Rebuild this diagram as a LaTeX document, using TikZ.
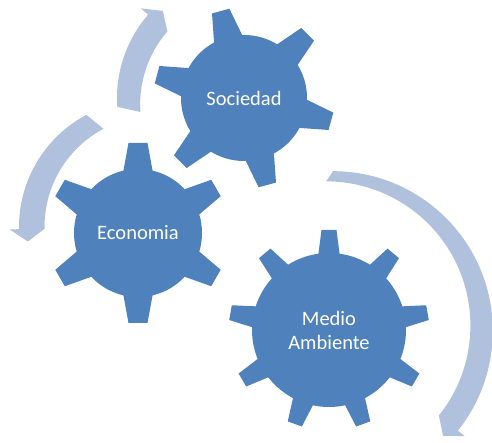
\documentclass[tikz,border=0pt]{standalone}
\usepackage{fontspec}
\setmainfont{Carlito}
\definecolor{gearblue}{RGB}{79,129,189}
\definecolor{arrowblue}{RGB}{176,193,222}
\newcommand{\mygear}[6]{%
  \begin{scope}[shift={#1}]
    \fill[gearblue] (0,0) circle[radius=#2];
    \foreach \a in {#6}{
      \fill[gearblue, rotate=\a] (#2-4,-#4) -- (#3,-#5) -- (#3,#5) -- (#2-4,#4) -- cycle;
    }
  \end{scope}}
\newcommand{\myarrow}[7]{% center, radius, start, base, tip, shaft half, head half
  \begin{scope}[shift={#1}]
    \fill[arrowblue] (#3:#2+#6) arc[start angle=#3, end angle=#4, radius=#2+#6]
      -- (#4:#2+#7) -- (#5:#2) -- (#4:#2-#7)
      arc[start angle=#4, end angle=#3, radius=#2-#6] -- cycle;
  \end{scope}}
\begin{document}
\begin{tikzpicture}[x=1pt,y=1pt,
  gtext/.style={text=white, font=\fontsize{20.5}{24}\selectfont, align=center, inner sep=0pt}]
\useasboundingbox (0,0) rectangle (492,443);
% arrows
\myarrow{(244,345)}{119}{184}{139}{133}{8}{17.5}
\myarrow{(146,216)}{119}{118}{181}{187}{8}{17.5}
\myarrow{(333,112)}{152}{90}{-38.6}{-43.6}{7.8}{16.5}
% gears
\mygear{(244,345)}{63}{90}{15}{9}{45,105,165,225,285,345}
\mygear{(138,210)}{64}{90}{15}{9.5}{30,90,150,210,270,330}
\mygear{(329,113)}{77}{100}{11}{7.5}{10,50,90,130,170,210,250,290,330}
% labels
\node[gtext] (soc) at (244,345) {Sociedad};
\node[gtext] (eco) at (138,210) {Economia};
\node[gtext] (med) at (329,113) {Medio\\Ambiente};
\end{tikzpicture}
\end{document}
